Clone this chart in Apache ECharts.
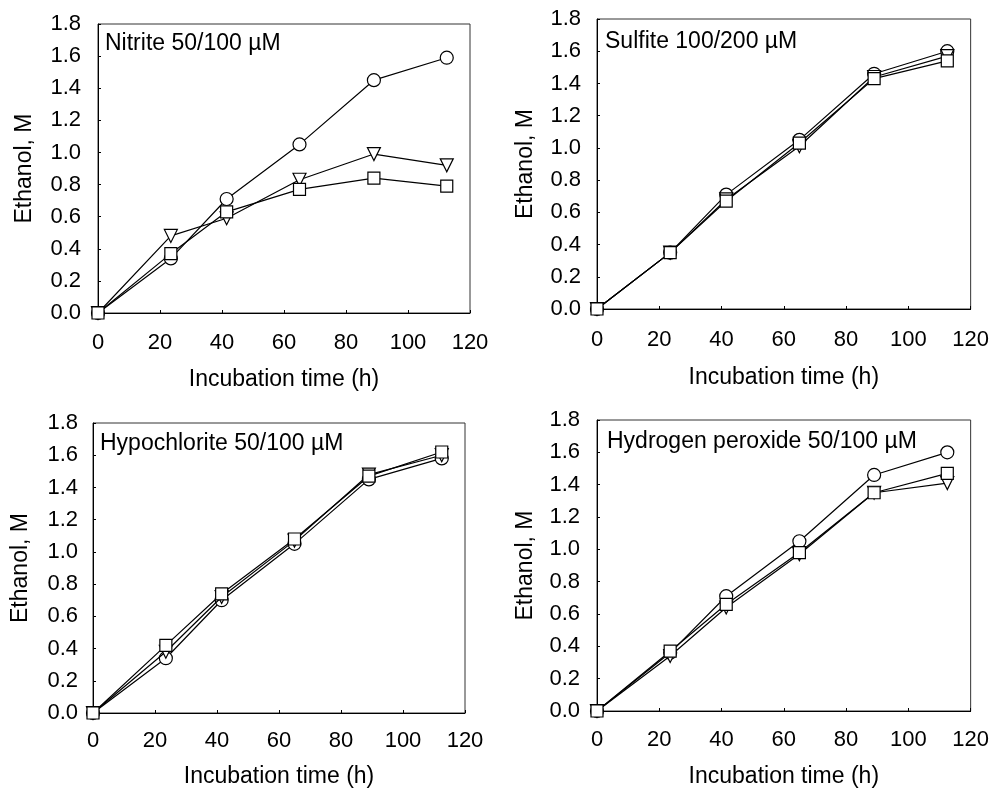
<!DOCTYPE html>
<html>
<head>
<meta charset="utf-8">
<script src="https://cdn.jsdelivr.net/npm/echarts@6/dist/echarts.min.js"></script>
<style>
html,body{margin:0;padding:0;background:#fff;}
#c{width:992px;height:790px;}
</style>
</head>
<body>
<div id="c"></div>
<script>
const times = [0, 23.5, 41.5, 65, 89, 112.5];
const xTicks = [0, 20, 40, 60, 80, 100, 120];
const yTicks = [0.0, 0.2, 0.4, 0.6, 0.8, 1.0, 1.2, 1.4, 1.6, 1.8];

const panelTitles = ['Nitrite 50/100 µM', 'Sulfite 100/200 µM', 'Hypochlorite 50/100 µM', 'Hydrogen peroxide 50/100 µM'];
const xAxisTitle = 'Incubation time (h)';
const yAxisTitle = 'Ethanol, M';

const nitriteCircle   = [0, 0.34, 0.71, 1.05, 1.45, 1.59];
const nitriteTriangle = [0, 0.48, 0.59, 0.83, 0.99, 0.92];
const nitriteSquare   = [0, 0.37, 0.63, 0.77, 0.84, 0.79];

const sulfiteCircle   = [0, 0.35, 0.71, 1.05, 1.46, 1.60];
const sulfiteTriangle = [0, 0.35, 0.68, 1.01, 1.44, 1.57];
const sulfiteSquare   = [0, 0.35, 0.67, 1.03, 1.43, 1.54];

const hypoCircle   = [0, 0.34, 0.70, 1.05, 1.45, 1.58];
const hypoTriangle = [0, 0.38, 0.72, 1.07, 1.48, 1.60];
const hypoSquare   = [0, 0.42, 0.74, 1.08, 1.47, 1.62];

const h2o2Circle   = [0, 0.36, 0.71, 1.05, 1.46, 1.60];
const h2o2Triangle = [0, 0.34, 0.64, 0.97, 1.35, 1.41];
const h2o2Square   = [0, 0.37, 0.66, 0.98, 1.35, 1.47];

const panelData = [
  [nitriteCircle, nitriteTriangle, nitriteSquare],
  [sulfiteCircle, sulfiteTriangle, sulfiteSquare],
  [hypoCircle, hypoTriangle, hypoSquare],
  [h2o2Circle, h2o2Triangle, h2o2Square]
];

const FONT = '"Liberation Sans", Arial, sans-serif';

// layout (pixels)
const grids = [
  {left: 98, top: 24, width: 372, height: 289},
  {left: 597, top: 19, width: 374, height: 290},
  {left: 93, top: 423, width: 372, height: 290},
  {left: 597, top: 420, width: 374, height: 291}
];
const titlePos = [
  {left: 105, top: 32},
  {left: 605, top: 30},
  {left: 100, top: 432},
  {left: 607, top: 430}
];
const xNameGap = [55, 57, 52, 54];
const yNameGap = [62, 60, 61, 60];
const xLabelMargin = [19, 20, 17, 18];
const yLabelMargin = [17, 16, 15, 17];

const markerDefs = [
  {symbol: 'circle', rotate: 0, size: 13},
  {symbol: 'triangle', rotate: 180, size: 13},
  {symbol: 'rect', rotate: 0, size: 12}
];

const option = {
  animation: false,
  backgroundColor: '#ffffff',
  title: panelTitles.map((t, i) => ({
    text: t,
    left: titlePos[i].left,
    top: titlePos[i].top,
    padding: 0,
    textStyle: {fontFamily: FONT, fontSize: 23, fontWeight: 'normal', color: '#000'}
  })),
  grid: grids.map(g => ({
    left: g.left, top: g.top, width: g.width, height: g.height,
    show: true, borderColor: '#333', borderWidth: 1, backgroundColor: 'transparent'
  })),
  xAxis: grids.map((g, i) => ({
    type: 'value', gridIndex: i,
    min: xTicks[0], max: xTicks[xTicks.length - 1], interval: xTicks[1] - xTicks[0],
    name: xAxisTitle, nameLocation: 'middle', nameGap: xNameGap[i],
    nameTextStyle: {fontFamily: FONT, fontSize: 23, color: '#000'},
    axisLine: {show: true, lineStyle: {color: '#000', width: 1}},
    axisTick: {show: true, inside: true, length: 3, lineStyle: {color: '#000'}},
    axisLabel: {fontFamily: FONT, fontSize: 22, color: '#000', margin: xLabelMargin[i]},
    splitLine: {show: false}
  })),
  yAxis: grids.map((g, i) => ({
    type: 'value', gridIndex: i,
    min: yTicks[0], max: yTicks[yTicks.length - 1], interval: 0.2,
    name: yAxisTitle, nameLocation: 'middle', nameGap: yNameGap[i],
    nameTextStyle: {fontFamily: FONT, fontSize: 23, color: '#000'},
    axisLine: {show: true, lineStyle: {color: '#000', width: 1}},
    axisTick: {show: true, inside: true, length: 3, lineStyle: {color: '#000'}},
    axisLabel: {fontFamily: FONT, fontSize: 22, color: '#000', margin: yLabelMargin[i],
      formatter: v => v.toFixed(1)},
    splitLine: {show: false}
  })),
  series: []
};

panelData.forEach((sets, pi) => {
  sets.forEach((vals, si) => {
    const m = markerDefs[si];
    option.series.push({
      type: 'line',
      xAxisIndex: pi, yAxisIndex: pi,
      data: times.map((t, k) => [t, vals[k]]),
      symbol: m.symbol, symbolSize: m.size, symbolRotate: m.rotate,
      showSymbol: true,
      z: 2 + si,
      lineStyle: {color: '#000', width: 1.2},
      itemStyle: {color: '#fff', borderColor: '#000', borderWidth: 1.2},
      emphasis: {disabled: true}
    });
  });
});

const chart = echarts.init(document.getElementById('c'), null, {renderer: 'canvas'});
chart.setOption(option);
</script>
</body>
</html>
